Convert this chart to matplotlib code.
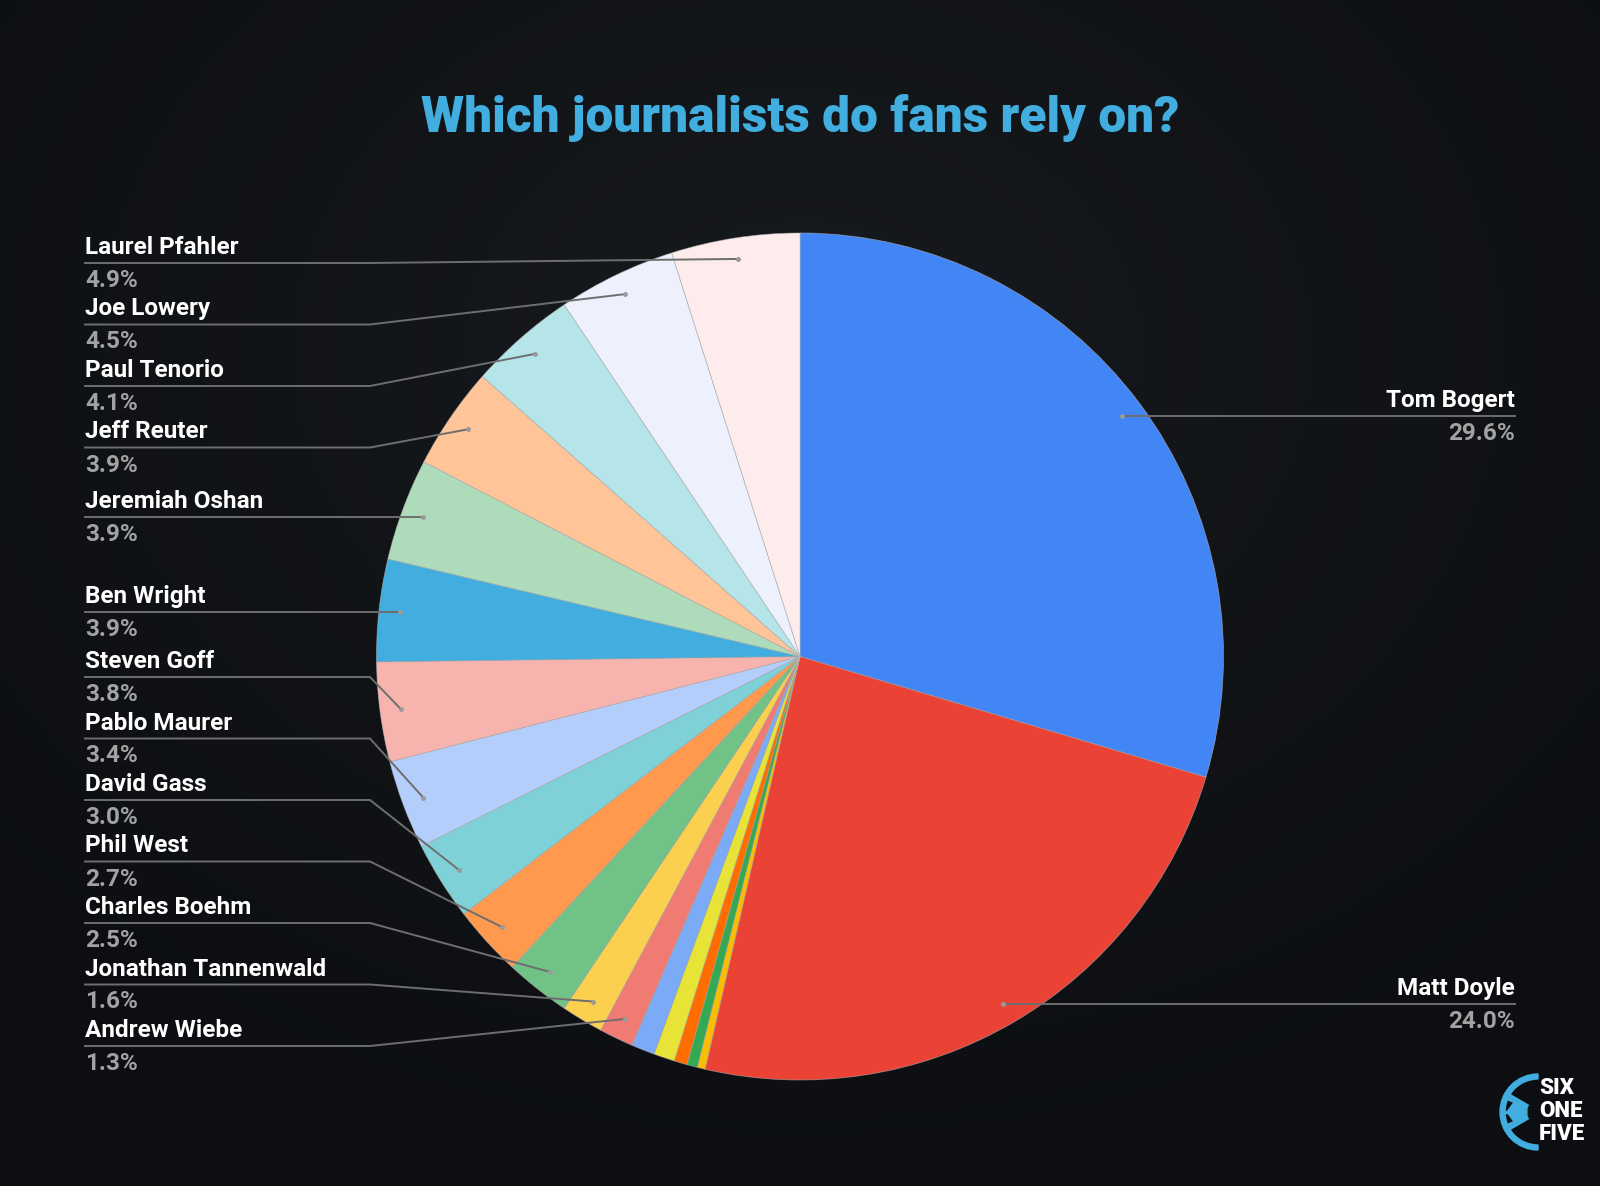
import numpy as np
import matplotlib.pyplot as plt
from matplotlib.patches import Wedge, Polygon

# slices clockwise from 12 o'clock; '' = unlabelled sliver
names = ["Tom Bogert", "Matt Doyle", "", "", "", "", "",
         "Andrew Wiebe", "Jonathan Tannenwald", "Charles Boehm", "Phil West",
         "David Gass", "Pablo Maurer", "Steven Goff", "Ben Wright",
         "Jeremiah Oshan", "Jeff Reuter", "Paul Tenorio", "Joe Lowery",
         "Laurel Pfahler"]
shares = [29.6, 24.0, 0.3, 0.4, 0.5, 0.8, 0.9,
          1.3, 1.6, 2.5, 2.7, 3.0, 3.4, 3.8, 3.9, 3.9, 3.9, 4.1, 4.5, 4.9]
colors = ["#4285F4", "#EA4335", "#FBBC04", "#34A853", "#FF6D01", "#E8E337",
          "#7BAAF7", "#F07B72", "#FCD04F", "#71C287", "#FF994D", "#7ED1D7",
          "#B3CEFB", "#F7B4AE", "#41AEDF", "#AEDCBA", "#FFC599", "#B5E5E8",
          "#ECF1FD", "#FDECEB"]

W, H = 1600, 1186
cx, cy, R = 800, 656.5, 423.5
label_font = ["Roboto", "DejaVu Sans"]
line_col = "#6e6e6e"
pct_col = "#a2a2a2"

fig = plt.figure(figsize=(W / 100, H / 100), dpi=100)
ax = fig.add_axes([0, 0, 1, 1])

# faint dark background glow
yy, xx = np.mgrid[0:H:4, 0:W:4]
t = np.clip(np.hypot((xx - 800) / 1100, (yy - 350) / 850), 0, 1)[..., None]
c0 = np.array([0x17, 0x1a, 0x1e]) / 255
c1 = np.array([0x0c, 0x0e, 0x11]) / 255
ax.imshow(c0 * (1 - t) + c1 * t, extent=(0, W, H, 0), zorder=0)

# y axis is inverted, so counterclock in data = clockwise on screen
ax.pie(shares, colors=colors, startangle=-90, counterclock=True,
       center=(cx, cy), radius=R,
       wedgeprops=dict(edgecolor=(0.7, 0.7, 0.7, 0.6), linewidth=0.6, zorder=2))
ax.set_xlim(0, W)
ax.set_ylim(H, 0)
ax.set_aspect("equal")
ax.axis("off")

# leader dots at 95% radius on each slice's mid angle
vals = np.array(shares)
mid = np.cumsum(vals) - vals / 2
ang = np.deg2rad(-90 + 360 * mid / vals.sum())
dot_x = cx + 0.95 * R * np.cos(ang)
dot_y = cy + 0.95 * R * np.sin(ang)


def put_label(x, ly, name, pct, ha):
    ax.text(x, ly - 15.5, name, ha=ha, va="center", color="white",
            fontsize=17.5, fontweight="bold", family=label_font, zorder=5)
    ax.text(x, ly + 17.5, pct, ha=ha, va="center", color=pct_col,
            fontsize=17.5, fontweight="bold", family=label_font, zorder=5)


# right side labels
for i in [0, 1]:
    ax.plot([dot_x[i], 1515], [dot_y[i], dot_y[i]], color=line_col, lw=1.4, zorder=4)
    ax.plot(dot_x[i], dot_y[i], "o", ms=2.5, color="#9a9a9a", zorder=4)
    put_label(1515, dot_y[i], names[i], f"{shares[i]:.1f}%", "right")

# left side labels, stacked top-to-bottom without overlap
left = [i for i in range(len(names)) if names[i] and dot_x[i] < cx]
left.sort(key=lambda i: dot_y[i])
gap, top, bottom = 61.5, 263, 1046
ly = []
for i in left:
    prev = ly[-1] + gap if ly else top
    ly.append(max(dot_y[i], prev))
for k in range(len(ly) - 1, -1, -1):
    lim = bottom if k == len(ly) - 1 else ly[k + 1] - gap
    ly[k] = min(ly[k], lim)

for i, y in zip(left, ly):
    ax.plot([85, 370, dot_x[i]], [y, y, dot_y[i]], color=line_col, lw=1.4, zorder=4)
    ax.plot(dot_x[i], dot_y[i], "o", ms=2.5, color="#9a9a9a", zorder=4)
    put_label(85, y, names[i], f"{shares[i]:.1f}%", "left")


def fit_width(txt, target):
    fig.canvas.draw()
    w = txt.get_window_extent().width
    txt.set_fontsize(txt.get_fontsize() * target / w)


# title, scaled to the reference width
title = ax.text(800, 118, "Which journalists do fans rely on?", ha="center",
                va="center", color="#41AEDF", fontsize=60, fontweight="black",
                family=label_font, zorder=5)
fit_width(title, 759)

# SIX ONE FIVE logo
ball = "#41AEDF"
bx, by, br = 1538, 1112, 38
ax.add_patch(Wedge((bx, by), br, 90, 270, width=5, color=ball, zorder=5))
pent = [(bx - 20 + 11 * np.cos(a), by + 11 * np.sin(a))
        for a in np.deg2rad(np.arange(5) * 72 + 180)]
ax.add_patch(Polygon(pent, closed=True, color=ball, zorder=5))
for px, py in pent:
    d = max(np.hypot(px - bx, py - by), 1)
    ex, ey = bx + (br - 3) * (px - bx) / d, by + (br - 3) * (py - by) / d
    if ex <= bx + 1:
        ax.plot([px, ex], [py, ey], color=ball, lw=2.5, zorder=5)
logo = ax.text(1539, 1111, "SIX\nONE\nFIVE", ha="left", va="center",
               color="white", fontsize=22, fontweight="black",
               family=label_font, linespacing=1.05, zorder=6)
fit_width(logo, 46)

fig.savefig("out.png", dpi=100, facecolor="#0e1014")
